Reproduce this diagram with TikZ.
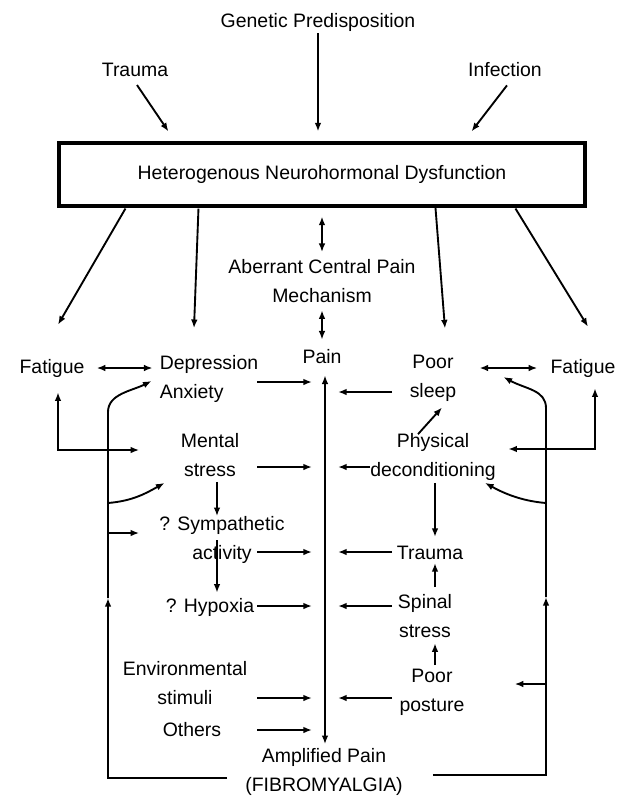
\documentclass[tikz,border=0pt]{standalone}
\usepackage{fontspec}
\setmainfont{Liberation Sans}
\usetikzlibrary{arrows.meta, calc}
\tikzset{
  >={Latex[length=0.26cm, width=0.2cm]},
  every picture/.style={line join=miter},
  lbl/.style={inner sep=0pt, align=center, font=\fontsize{16.6}{24.8}\selectfont},
  hndbox/.style={lbl, draw, line width=2.6pt, minimum width=15.78cm, minimum height=1.89cm},
  link/.style={->, line width=1.6pt},
  twoway/.style={<->, line width=1.6pt},
}

\begin{document}
\begin{tikzpicture}[x=0.03cm, y=-0.03cm]
  \useasboundingbox (0,0) rectangle (630,800);
  % causes and the central dysfunction
  \node[lbl] (gen) at (318,22) {Genetic Predisposition};
  \node[lbl] (trauma) at (135,70) {Trauma};
  \node[lbl] (infect) at (505,70) {Infection};
  \node[hndbox] (hnd) at (322,174.5) {Heterogenous Neurohormonal Dysfunction};
  \node[lbl] (acpm) at (322,281) {Aberrant Central Pain\\Mechanism};
  \node[lbl] (pain) at (322,357) {Pain};
  % left column
  \node[lbl] (fatL) at (52,368) {Fatigue};
  \node[lbl, align=left] (dep) at (209,379) {Depression\\Anxiety};
  \node[lbl] (mental) at (210,455) {Mental\\stress};
  \node[lbl] (symp) at (222,540) {? Sympathetic\\activity};
  \node[lbl] (hypox) at (210,607) {? Hypoxia};
  \node[lbl] (env) at (185,683) {Environmental\\stimuli};
  \node[lbl] (others) at (192,730) {Others};
  % right column
  \node[lbl] (sleep) at (433,378) {Poor\\sleep};
  \node[lbl] (fatR) at (583,368) {Fatigue};
  \node[lbl] (phys) at (433,457) {Physical\\deconditioning};
  \node[lbl] (traumaR) at (430,553) {Trauma};
  \node[lbl] (spinal) at (425,616) {Spinal\\stress};
  \node[lbl] (posture) at (432,692) {Poor\\posture};
  \node[lbl] (amp) at (324,772) {Amplified Pain\\(FIBROMYALGIA)};

  % columns used by the arrows
  \coordinate (inL) at (257,0);
  \coordinate (axL) at (312,0);
  \coordinate (inR) at (392,0);
  \coordinate (axR) at (338,0);
  \coordinate (axis) at (325,0);
  \coordinate (colL) at (217,0);
  \coordinate (colR) at (435,0);

  % into the box
  \draw[link, shorten <=0.06cm, shorten >=0.3cm] (gen.south) -- (gen.south |- hnd.north);
  \draw[link] ($(trauma.south)+(2,8)$) -- ($(hnd.north west)+(111,-10)$);
  \draw[link] ($(infect.south)+(2,8)$) -- ($(hnd.north west)+(414,-10)$);
  % out of the box
  \draw[link] ($(hnd.south west)+(68,1)$) -- ($(fatL.north)+(6,-34)$);
  \draw[link] ($(hnd.south west)+(141,1)$) -- ($(dep.north)+(-15,-27)$);
  \draw[link] ($(hnd.south west)+(378,0)$) -- ($(sleep.north)+(12,-26)$);
  \draw[link] ($(hnd.south west)+(458,1)$) -- ($(fatR.north)+(5,-32)$);
  \draw[twoway, shorten <=0.27cm, shorten >=0.21cm] (hnd.south) -- (acpm.north);
  \draw[twoway, shorten <=0.22cm, shorten >=0.3cm] (acpm.south) -- (pain.north);
  % pain axis
  \draw[twoway, shorten <=0.33cm, shorten >=0.12cm] (pain.south -| axis) -- (amp.north -| axis);

  % inputs to the pain axis
  \foreach \n/\dy in {dep/-0.09, mental/-0.36, symp/-0.36, hypox/0.03, env/-0.45, others/0}
    \draw[link] ([yshift=\dy cm]\n.east -| inL) -- ([yshift=\dy cm]\n.east -| axL);
  \foreach \n/\dy in {sleep/-0.42, traumaR/0.03, spinal/0.3, posture/-0.18}
    \draw[link] ([yshift=\dy cm]\n.west -| inR) -- ([yshift=\dy cm]\n.west -| axR);
  \draw[link] ([yshift=-0.3cm]phys.west) -- ([yshift=-0.3cm]phys.west -| axR);

  % chains within the columns
  \draw[link, shorten <=0.15cm] (mental.south -| colL) -- (symp.north -| colL);
  \draw[link, shorten >=0.15cm] (symp.center -| colL) -- (hypox.north -| colL);
  \draw[link, shorten <=0.06cm, shorten >=0.27cm] (phys.south -| colR) -- (traumaR.north -| colR);
  \draw[link, shorten <=0.21cm, shorten >=0.09cm] (spinal.north -| colR) -- (traumaR.south -| colR);
  \draw[link, shorten <=0.1cm, shorten >=0.16cm] (posture.north -| colR) -- (spinal.south -| colR);
  \draw[link] ($(phys.north)+(-15,1)$) -- ($(sleep.south)+(9,6)$);

  % fatigue links
  \draw[twoway, shorten <=0.36cm, shorten >=0.21cm] (fatL.east) -- (fatL.east -| dep.west);
  \draw[twoway, shorten <=0.69cm, shorten >=0.39cm] (fatR.west -| sleep.east) -- (fatR.west);
  \draw[twoway, shorten <=0.45cm, shorten >=1.24cm] ([xshift=0.18cm]fatL.south) |- ([yshift=0.15cm]mental.west);
  \draw[twoway, shorten <=0.33cm, shorten >=0.37cm] ([xshift=0.36cm]fatR.south) |- ([yshift=0.24cm]phys.east);

  % feedback loops from amplified pain
  \coordinate (lbot) at (108,778);
  \coordinate (lmid) at (108,598);
  \coordinate (ltop) at (108,412);
  \coordinate (lm) at (108,503);
  \coordinate (ls) at (108,533);
  \coordinate (rbot) at (546,775);
  \coordinate (rmid) at (546,597);
  \coordinate (rtop) at (546,408);
  \coordinate (rp) at (546,503);
  \coordinate (rpo) at (546,684);
  \draw[link, shorten <=0.54cm] (amp.west |- lbot) -- (lbot) -- (lmid);
  \draw[link] (lmid) -- (ltop) .. controls +(0,-18) and +(-20,10) .. ($(dep.west)+(-8,2)$);
  \draw[link] (lm) .. controls +(25,-2) and +(-18,10) .. ($(mental.south west)+(-16,6)$);
  \draw[link, shorten >=0.6cm] (ls) -- (ls -| symp.west);
  \draw[link, shorten <=0.9cm] (amp.east |- rbot) -- (rbot) -- (rmid);
  \draw[link] (rmid) -- (rtop) .. controls +(0,-18) and +(22,12) .. ($(sleep.east)+(47,-1)$);
  \draw[link] (rp) .. controls +(-25,-2) and +(18,10) .. ($(phys.south east)+(-11,2)$);
  \draw[link, shorten >=1.5cm] (rpo) -- (rpo -| posture.east);
\end{tikzpicture}
\end{document}
